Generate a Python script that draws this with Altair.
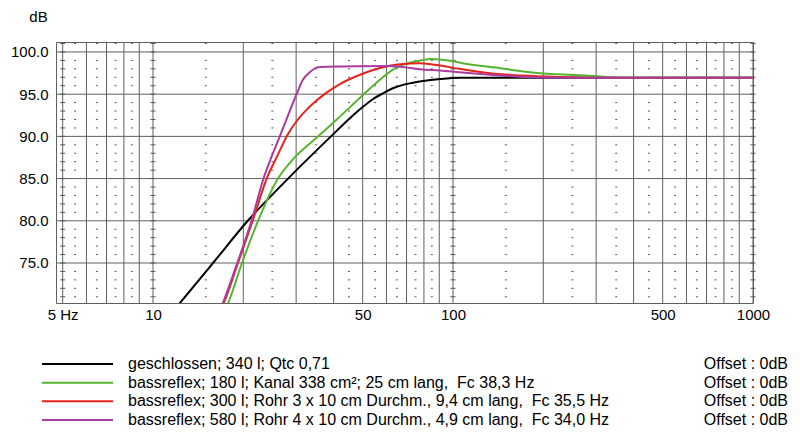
import altair as alt
import pandas as pd

# ---------------- data ----------------
series_names = [
    "geschlossen; 340 l; Qtc 0,71",
    "bassreflex; 180 l; Kanal 338 cm²; 25 cm lang, \u00a0Fc 38,3 Hz",
    "bassreflex; 300 l; Rohr 3 x 10 cm Durchm., 9,4 cm lang, \u00a0Fc 35,5 Hz",
    "bassreflex; 580 l; Rohr 4 x 10 cm Durchm., 4,9 cm lang, \u00a0Fc 34,0 Hz",
]
series_offsets = ["Offset : 0dB", "Offset : 0dB", "Offset : 0dB", "Offset : 0dB"]
series_colors = ["#000000", "#55b531", "#e5231b", "#ab3c9f"]

freq_black = [12.0, 12.3, 15.85, 20.7, 28.2, 39.2, 45.5, 50.1, 54.0, 58.4, 63.0, 68.1, 73.5, 79.4, 90.5, 105.5, 130, 1000]
db_black = [69.8, 70.26, 75.0, 80.0, 85.0, 90.0, 92.2, 93.5, 94.4, 95.1, 95.7, 96.1, 96.35, 96.56, 96.8, 96.95, 96.95, 96.95]

freq_green = [17.5, 17.8, 19.8, 22.4, 26.1, 29.3, 35.0, 41.0, 50.1, 58.4, 65.1, 70.0, 75.9, 83.8, 97.7, 105.5, 143.5, 195, 251, 293, 360, 1000]
db_green = [69.7, 70.26, 75.0, 80.0, 85.0, 87.3, 89.8, 92.0, 94.9, 97.0, 98.2, 98.6, 98.9, 99.17, 98.97, 98.73, 98.07, 97.48, 97.27, 97.16, 96.95, 96.95]

freq_red = [16.9, 17.2, 19.2, 21.5, 24.0, 25.9, 28.1, 30.4, 32.6, 34.7, 37.6, 42.0, 49.0, 57.1, 66.6, 77.6, 90.5, 105, 133, 171, 222, 286, 1000]
db_red = [69.7, 70.26, 75.0, 80.0, 85.1, 87.6, 90.2, 92.0, 93.2, 94.1, 95.1, 96.2, 97.3, 98.1, 98.55, 98.66, 98.4, 98.0, 97.48, 97.2, 97.04, 96.95, 96.95]

freq_purple = [16.9, 17.1, 19.1, 21.3, 23.4, 24.6, 26.4, 28.2, 30.1, 31.6, 33.3, 35.5, 38.0, 60.3, 66.6, 77.6, 90.5, 105, 133, 171, 228, 1000]
db_purple = [69.8, 70.26, 75.0, 80.0, 85.1, 87.2, 89.9, 92.5, 95.0, 96.7, 97.6, 98.2, 98.26, 98.34, 98.26, 97.95, 97.8, 97.6, 97.3, 97.04, 96.95, 96.95]

x_tick_values = [5, 10, 50, 100, 500, 1000]
y_tick_values = [75, 80, 85, 90, 95, 100]

vgrid_major = [6, 7, 8, 9, 20, 30, 40, 50, 60, 70, 80, 90, 200, 300, 400, 500, 600, 700, 800, 900]
vgrid_decade = [5, 10, 100, 1000]
vgrid_dotted = [5.5, 6.5, 7.5, 8.5, 15, 25, 35, 45, 55, 65, 75, 85, 150, 250, 350, 450, 550, 650, 750, 850]
hgrid_major = [75, 80, 85, 90, 95, 100]
db_all = list(range(71, 102))
db_minor = [d for d in db_all if d % 5 != 0]

x_domain = [4.75, 1000]
y_domain = [70.26, 101.18]

FONT = "Liberation Sans"
GRID = "#606060"

# ---------------- scales / axes ----------------
xs = alt.Scale(type="log", domain=x_domain, nice=False)
ys = alt.Scale(domain=y_domain, nice=False, zero=False)

x_axis = alt.Axis(values=x_tick_values, labelExpr="datum.value == 5 ? '5 Hz' : format(datum.value, 'd')",
                  ticks=False, domain=False, grid=False, labelFontSize=15, labelFont=FONT,
                  labelColor="black", labelPadding=4, labelFlush=False, labelOverlap=False, title=None)
y_axis = alt.Axis(values=y_tick_values, format=".1f", ticks=False, domain=False, grid=False,
                  labelFontSize=15, labelFont=FONT, labelColor="black", labelPadding=8,
                  title="dB", titleAngle=0, titleX=-18, titleY=-26, titleAlign="center",
                  titleBaseline="middle", titleFontSize=15, titleFontWeight="normal",
                  titleFont=FONT, titleColor="black")

X = alt.X("f:Q", scale=xs, axis=x_axis)
Y = alt.Y("db:Q", scale=ys, axis=y_axis)

vmaj = alt.Chart(pd.DataFrame({"f": vgrid_major + vgrid_decade})).mark_rule(color=GRID, strokeWidth=1).encode(x=X)
hmaj = alt.Chart(pd.DataFrame({"db": hgrid_major})).mark_rule(color=GRID, strokeWidth=1).encode(y=Y)

dots_df = pd.DataFrame([(f, d) for f in vgrid_dotted for d in db_minor], columns=["f", "db"])
dots = alt.Chart(dots_df).mark_tick(orient="horizontal", size=2, thickness=1, color="#555555", opacity=1).encode(x=X, y=Y)

dec_df = pd.DataFrame([(f, d) for f in vgrid_decade for d in db_all], columns=["f", "db"])
dec_ticks = alt.Chart(dec_df).mark_tick(orient="horizontal", size=5, thickness=1, color="#555555", opacity=1).encode(x=X, y=Y)

curve_data = [
    (freq_black, db_black),
    (freq_green, db_green),
    (freq_red, db_red),
    (freq_purple, db_purple),
]
curves = []
for (fr, db), col in zip(curve_data, series_colors):
    df = pd.DataFrame({"f": fr, "db": db})
    curves.append(
        alt.Chart(df).mark_line(color=col, strokeWidth=2, clip=True, interpolate="monotone").encode(x=X, y=Y)
    )

main = alt.layer(vmaj, hmaj, dots, dec_ticks, *curves)

# ---------------- legend (below plot) ----------------
leg_df = pd.DataFrame({"name": series_names, "offset": series_offsets})
ly = alt.Y("name:N", scale=alt.Scale(type="point", domain=series_names, range=[322, 378], padding=0), axis=None)
lcol = alt.Color("name:N", scale=alt.Scale(domain=series_names, range=series_colors), legend=None)
leg_lines = alt.Chart(leg_df).mark_rule(strokeWidth=2).encode(
    x=alt.value(-14), x2=alt.value(57), y=ly, color=lcol)
leg_text = alt.Chart(leg_df).mark_text(align="left", baseline="middle", fontSize=16, font=FONT, color="black").encode(
    x=alt.value(72), y=ly, text="name:N")
leg_off = alt.Chart(leg_df).mark_text(align="right", baseline="middle", fontSize=16, font=FONT, color="black").encode(
    x=alt.value(732), y=ly, text="offset:N")
legend = alt.layer(leg_lines, leg_text, leg_off)

chart = alt.layer(main, legend).resolve_scale(y="independent").properties(
    width=697, height=261,
    padding={"left": 56, "top": 42, "right": 47, "bottom": 130},
    autosize=alt.AutoSizeParams(type="none"),
    background="white",
).configure_view(stroke=GRID, strokeWidth=1)

chart.save("out.html", embed_options={"renderer": "svg", "actions": False})
